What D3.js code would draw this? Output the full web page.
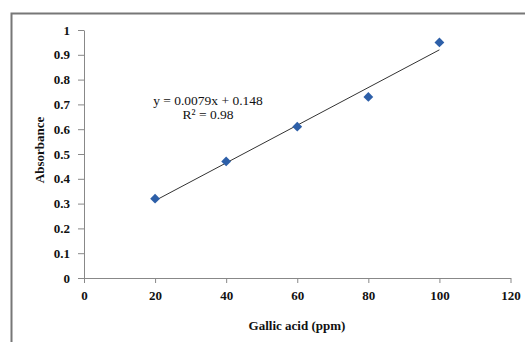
<!DOCTYPE html>
<html>
<head>
<meta charset="utf-8">
<script src="https://cdn.jsdelivr.net/npm/d3@7"></script>
<style>
body { margin: 0; background: #fff; }
text { font-family: "Liberation Serif", "Times New Roman", serif; }
</style>
</head>
<body>
<div id="chart"></div>
<script>
var svgWidth = 525;
var svgHeight = 342;

// data
var concentrations = [20, 40, 60, 80, 100];
var absorbance = [0.32, 0.47, 0.61, 0.73, 0.95];
var xTicks = [0, 20, 40, 60, 80, 100, 120];
var yTicks = [0, 0.1, 0.2, 0.3, 0.4, 0.5, 0.6, 0.7, 0.8, 0.9, 1];
var equationLines = ["y = 0.0079x + 0.148", "R\u00b2 = 0.98"];

var margin = { top: 30, right: 15, bottom: 64, left: 84 };
var width = 510.5 - margin.left;
var height = 278 - margin.top;

var svg = d3.select("#chart")
.append("svg")
.attr("width", svgWidth)
.attr("height", svgHeight);

// outer chart frame (runs off the right and bottom of the picture)
svg.append("rect")
.attr("x", 11.5)
.attr("y", 13.5)
.attr("width", 540)
.attr("height", 360)
.attr("fill", "none")
.attr("stroke", "#777")
.attr("stroke-width", 2);

var chartGroup = svg.append("g")
.attr("transform", `translate(${margin.left}, ${margin.top})`);

var xLinearScale = d3.scaleLinear()
.domain([0, 120])
.range([0, width]);

var yLinearScale = d3.scaleLinear()
.domain([0, 1])
.range([height, 0]);

var bottomAxis = d3.axisBottom(xLinearScale).tickValues(xTicks).tickSize(5).tickPadding(8).tickSizeOuter(0);
var leftAxis = d3.axisLeft(yLinearScale).tickValues(yTicks).tickSize(6).tickPadding(8).tickSizeOuter(0)
.tickFormat(d => d3.format("")(+d.toFixed(1)));

var xAxisG = chartGroup.append("g")
.attr("transform", `translate(0, ${height})`)
.call(bottomAxis);

var yAxisG = chartGroup.append("g")
.call(leftAxis);

[xAxisG, yAxisG].forEach(function(g) {
  g.selectAll("path, line").attr("stroke", "#888").attr("stroke-width", 1);
  g.selectAll("text")
  .attr("font-family", "Liberation Serif, serif")
  .attr("font-weight", "bold")
  .attr("font-size", "13px")
  .attr("fill", "#111");
});

// least squares trendline from the points
var mx = d3.mean(concentrations);
var my = d3.mean(absorbance);
var slope = d3.sum(concentrations, (x, i) => (x - mx) * (absorbance[i] - my)) /
  d3.sum(concentrations, x => (x - mx) * (x - mx));
var intercept = my - slope * mx;
var x0 = d3.min(concentrations), x1 = d3.max(concentrations);

chartGroup.append("line")
.attr("x1", xLinearScale(x0))
.attr("y1", yLinearScale(slope * x0 + intercept))
.attr("x2", xLinearScale(x1))
.attr("y2", yLinearScale(slope * x1 + intercept))
.attr("stroke", "#333")
.attr("stroke-width", 1);

var diamond = d3.symbol().type(d3.symbolSquare).size(48);
chartGroup.selectAll(".pt")
.data(concentrations)
.enter()
.append("path")
.attr("class", "pt")
.attr("d", diamond)
.attr("transform", (d, i) => `translate(${xLinearScale(d)}, ${yLinearScale(absorbance[i])}) rotate(45)`)
.attr("fill", "#2d5fa8");

chartGroup.selectAll(".eq")
.data(equationLines)
.enter()
.append("text")
.attr("class", "eq")
.attr("x", 124)
.attr("y", (d, i) => 75 + i * 14)
.attr("text-anchor", "middle")
.attr("font-size", "13.5px")
.attr("fill", "#111")
.text(d => d);

svg.append("text")
.attr("transform", "rotate(-90)")
.attr("x", -150)
.attr("y", 44)
.attr("text-anchor", "middle")
.attr("font-weight", "bold")
.attr("font-size", "13px")
.attr("fill", "#111")
.text("Absorbance");

svg.append("text")
.attr("x", 297)
.attr("y", 330)
.attr("text-anchor", "middle")
.attr("font-weight", "bold")
.attr("font-size", "13px")
.attr("fill", "#111")
.text("Gallic acid (ppm)");
</script>
</body>
</html>
